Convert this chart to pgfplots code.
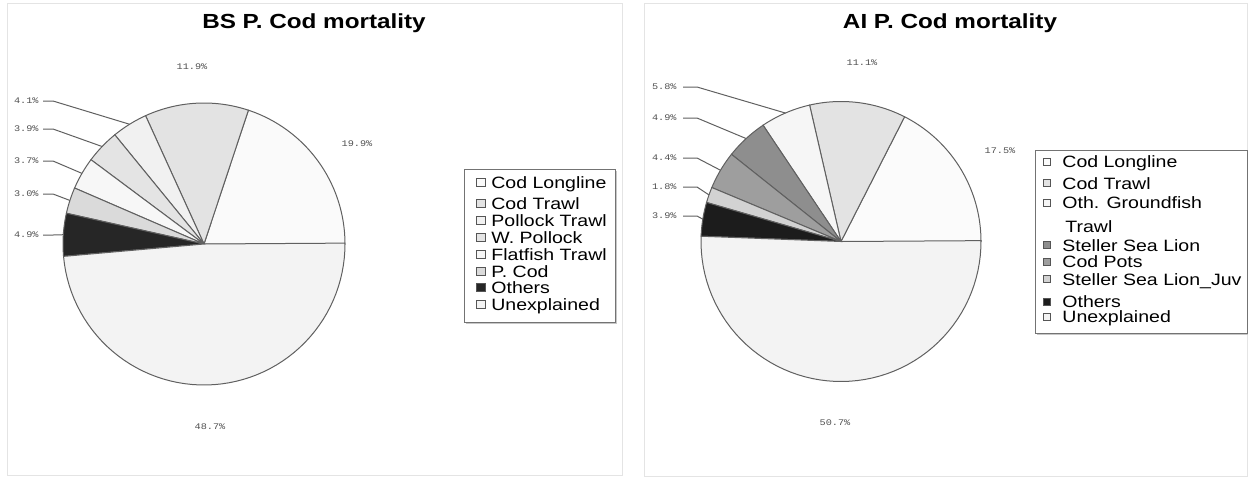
\documentclass[border=0pt]{standalone}
\usepackage{fontspec}
\setmainfont{Liberation Sans}
\newfontfamily\pctfont{Liberation Mono}
\usepackage{graphicx}
\usepackage{pgfplots}
\pgfplotsset{compat=1.18}

% slice fills, Bering Sea
\definecolor{bsA}{HTML}{FAFAFA}
\definecolor{bsB}{HTML}{E3E3E3}
\definecolor{bsC}{HTML}{F1F1F1}
\definecolor{bsD}{HTML}{E4E4E4}
\definecolor{bsE}{HTML}{F7F7F7}
\definecolor{bsF}{HTML}{DADADA}
\definecolor{bsG}{HTML}{262626}
\definecolor{bsH}{HTML}{F3F3F3}
% slice fills, Aleutian Islands
\definecolor{aiA}{HTML}{FBFBFB}
\definecolor{aiB}{HTML}{E3E3E3}
\definecolor{aiC}{HTML}{F6F6F6}
\definecolor{aiD}{HTML}{8E8E8E}
\definecolor{aiE}{HTML}{9E9E9E}
\definecolor{aiF}{HTML}{D2D2D2}
\definecolor{aiG}{HTML}{1C1C1C}
\definecolor{aiH}{HTML}{F3F3F3}
\definecolor{pieedge}{HTML}{606060}
\definecolor{pcttext}{HTML}{505050}
\definecolor{panelline}{HTML}{E4E4E4}
\definecolor{keyedge}{HTML}{555555}

\newcommand\wide[1]{\scalebox{1.19}[1]{#1}}
\newcommand\legfont{\fontsize{8.2}{9}\selectfont}
\newcommand\titlefont{\fontsize{10.2}{12}\selectfont\bfseries}
\newcommand\pct[1]{\textcolor{pcttext}{\pctfont\fontsize{4.3}{5}\selectfont\wide{#1}}}

% one wedge: value (percent), fill colour, name of the rim point at its middle angle
\newcommand\pieslice[3]{%
  \pgfmathsetmacro\sliceend{\slicestart+3.6*#1}%
  \pgfmathsetmacro\slicemid{(\slicestart+\sliceend)/2}%
  \edef\next{%
    \noexpand\addplot[draw=pieedge, line width=0.5pt, fill=#2,
      domain=\slicestart:\sliceend, samples=60, variable=\noexpand\t]
      ({cos(\noexpand\t)},{sin(\noexpand\t)}) -- (axis cs:0,0) -- cycle;
    \noexpand\coordinate (#3) at (axis cs:{cos(\slicemid)},{sin(\slicemid)});
  }%
  \next
  \global\let\slicestart\sliceend
}

% legend key: x, y, key width, key height, colour
\newcommand\legkey[5]{%
  \filldraw[draw=keyedge, line width=0.5pt, fill=#5] (#1,#2-#4/2) rectangle ++(#3,#4);
}

\pgfplotsset{pie/.style={hide axis, scale only axis, clip=false, anchor=center,
  xmin=-1.05, xmax=1.05, ymin=-1.05, ymax=1.05}}

\begin{document}
% one picture unit is 0.5pt, y grows downwards
\begin{tikzpicture}[x=0.5pt, y=-0.5pt]
\path (0,0) rectangle (1248,478);
\draw[panelline, line width=0.5pt] (7,3) rectangle (622,475);
\draw[panelline, line width=0.5pt] (644,3) rectangle (1247,476);

% ---------------- Bering Sea ----------------
\node[anchor=base] at (314,28.5) {\titlefont\wide{BS P. Cod mortality}};
\begin{axis}[pie, at={(102pt,-122pt)}, width=148.05pt, height=148.05pt]
\gdef\slicestart{0}
\pieslice{19.9}{bsA}{bs1}
\pieslice{11.9}{bsB}{bs2}
\pieslice{4.1}{bsC}{bs3}
\pieslice{3.9}{bsD}{bs4}
\pieslice{3.7}{bsE}{bs5}
\pieslice{3.0}{bsF}{bs6}
\pieslice{4.9}{bsG}{bs7}
\pieslice{48.7}{bsH}{bs8}
\end{axis}
\node at (192,67) {\pct{11.9\%}};
\node at (357,144) {\pct{19.9\%}};
\node at (210,427) {\pct{48.7\%}};
\foreach \lab/\yy/\pt in {4.1/101/bs3, 3.9/129/bs4, 3.7/161/bs5, 3.0/194/bs6, 4.9/235/bs7}{
  \node[anchor=east, inner sep=0pt] at (39,\yy) {\pct{\lab\%}};
  \draw[pieedge, line width=0.5pt] (43,\yy) -- (53,\yy) -- (\pt);
}
% legend
\fill[black!22] (466,171) rectangle (617,324);
\filldraw[fill=white, draw=black!55, line width=0.5pt] (464,169) rectangle (615,322);
\foreach \col/\yy/\txt in {bsA/182/Cod Longline, bsB/203/Cod Trawl, bsC/220/Pollock Trawl,
    bsD/237/W. Pollock, bsE/254/Flatfish Trawl, bsF/271/P. Cod, bsG/287/Others, bsH/304/Unexplained}{
  \legkey{476}{\yy}{9}{8}{\col}
  \node[anchor=base west, inner sep=0pt] at (491,\yy+6) {\legfont\wide{\txt}};
}

% ---------------- Aleutian Islands ----------------
\node[anchor=base] at (950,28) {\titlefont\wide{AI P. Cod mortality}};
\begin{axis}[pie, at={(420.5pt,-120.75pt)}, width=147pt, height=147pt]
\gdef\slicestart{0}
\pieslice{17.5}{aiA}{ai1}
\pieslice{11.1}{aiB}{ai2}
\pieslice{5.8}{aiC}{ai3}
\pieslice{4.9}{aiD}{ai4}
\pieslice{4.4}{aiE}{ai5}
\pieslice{1.8}{aiF}{ai6}
\pieslice{3.9}{aiG}{ai7}
\pieslice{50.7}{aiH}{ai8}
\end{axis}
\node at (862,63) {\pct{11.1\%}};
\node at (1000,151) {\pct{17.5\%}};
\node at (835,423) {\pct{50.7\%}};
\foreach \lab/\yy/\pt in {5.8/87/ai3, 4.9/118/ai4, 4.4/158/ai5, 1.8/187/ai6, 3.9/216/ai7}{
  \node[anchor=east, inner sep=0pt] at (677,\yy) {\pct{\lab\%}};
  \draw[pieedge, line width=0.5pt] (683,\yy) -- (697,\yy) -- (\pt);
}
% legend
\fill[black!22] (1037,152) rectangle (1248,335);
\filldraw[fill=white, draw=black!55, line width=0.5pt] (1035,150) rectangle (1247,333);
\foreach \col/\yy/\txt in {aiA/161.7/Cod Longline, aiB/183/Cod Trawl, aiC/202.7/Oth. Groundfish,
    aiD/245/Steller Sea Lion, aiE/261.7/Cod Pots, aiF/279.3/Steller Sea Lion\_Juv,
    aiG/301.7/Others, aiH/316.7/Unexplained}{
  \legkey{1043}{\yy}{7}{7}{\col}
  \node[anchor=base west, inner sep=0pt] at (1062,\yy+6) {\legfont\wide{\txt}};
}
\node[anchor=base west, inner sep=0pt] at (1065,226.7+6) {\legfont\wide{Trawl}};
\end{tikzpicture}
\end{document}
